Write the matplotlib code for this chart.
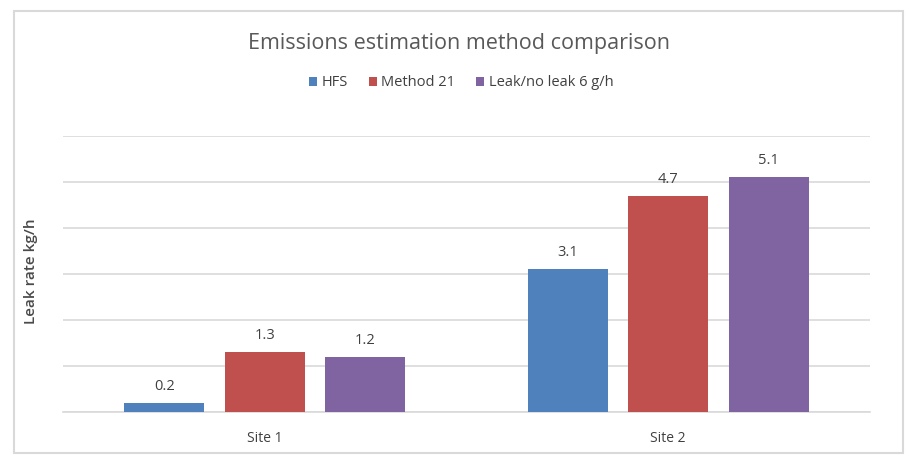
import matplotlib
matplotlib.use("Agg")
import matplotlib.pyplot as plt
from matplotlib.patches import Rectangle
import numpy as np

categories = ["Site 1", "Site 2"]
series_names = ["HFS", "Method 21", "Leak/no leak 6 g/h"]
hfs = [0.2, 3.1]
method21 = [1.3, 4.7]
leak_no_leak = [1.2, 5.1]
label_texts = [["0.2", "3.1"], ["1.3", "4.7"], ["1.2", "5.1"]]

colors = ["#4F81BD", "#C0504D", "#8064A2"]
plt.rcParams['font.family'] = ['Open Sans', 'DejaVu Sans']

fig = plt.figure(figsize=(9.19, 4.55), dpi=100)
W, H = 919, 455
# outer chart border
fig.patches.append(Rectangle((14 / W, 2 / H), 889 / W, 442 / H, transform=fig.transFigure,
                             fill=False, edgecolor="#D9D9D9", linewidth=1.5))

ax = fig.add_axes([63 / W, (H - 412) / H, 807 / W, 276 / H])
x = np.arange(len(categories))
step = 0.249
width = 0.198
all_series = [hfs, method21, leak_no_leak]
for j, (vals, name, col) in enumerate(zip(all_series, series_names, colors)):
    pos = x + (j - 1) * step
    ax.bar(pos, vals, width=width, color=col, label=name, zorder=3)
    for p, v, t in zip(pos, vals, label_texts[j]):
        ax.text(p, v + 0.2, t, ha="center", va="bottom", fontsize=10.5, color="#404040")

ax.set_xlim(-0.5, 1.5)
ax.set_ylim(0, 6)
ax.set_yticks(np.arange(0, 7, 1))
ax.set_yticklabels([])
ax.tick_params(axis="y", length=0)
ax.tick_params(axis="x", length=0, pad=14, labelsize=10, labelcolor="#404040")
ax.set_xticks(x)
ax.set_xticklabels(categories)
ax.grid(axis="y", color="#D9D9D9", linewidth=1.2, zorder=0)
for s in ["top", "right", "left"]:
    ax.spines[s].set_visible(False)
ax.spines["bottom"].set_color("#D9D9D9")
ax.spines["bottom"].set_linewidth(1.2)

fig.text(31 / W, (H - 271) / H, "Leak rate kg/h", rotation=90, ha="center", va="center",
         fontsize=11, fontweight="semibold", color="#4a4a4a")
fig.text(459 / W, (H - 43) / H, "Emissions estimation method comparison", ha="center",
         va="center", fontsize=15.5, color="#595959")
leg = fig.legend(loc="center", bbox_to_anchor=(461 / W, (H - 83) / H), ncol=3, frameon=False,
                 fontsize=10.5, handlelength=0.55, handleheight=0.55, handletextpad=0.3,
                 columnspacing=1.45, labelcolor="#404040")

fig.savefig("out.png", dpi=100)
